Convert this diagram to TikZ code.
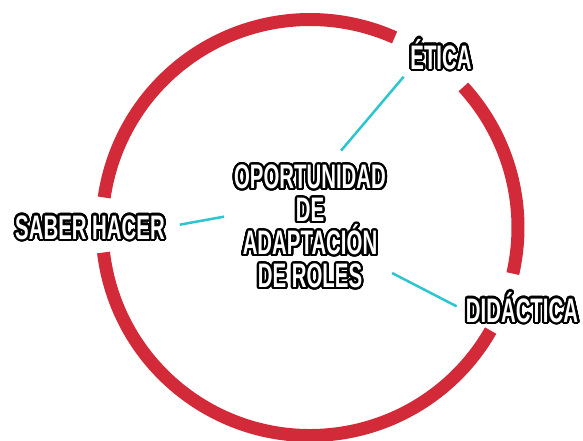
\documentclass[tikz,border=0pt]{standalone}
\usepackage{fontspec}
\usepackage{contour}
\usepackage{tikz}

\newfontfamily\rolefont{Liberation Sans}[FakeStretch = 0.6]
\contourlength{2.2pt}
\contournumber{32}
\definecolor{ringred}{RGB}{210,42,56}
\definecolor{linkcyan}{RGB}{44,197,208}

\begin{document}
\begin{tikzpicture}[x = 1pt, y = 1pt,
                      ring/.style = {draw = ringred, line width = 13pt},
                      link/.style = {draw = linkcyan, line width = 2.5pt},
                      role/.style = {text = white, inner sep = 2pt, text height = 24.3pt, text depth = 0pt,
                                     font = \rolefont\bfseries\fontsize{34}{33}\selectfont},
                      hubtext/.style = {text = white, align = center, inner xsep = 6pt, inner ysep = 14pt,
                                        font = \rolefont\bfseries\fontsize{34}{33}\selectfont}]
    \useasboundingbox (0, 0) rectangle (583, -440);

    \node [hubtext] (hub) at (310, -227.5){\contour{black}{OPORTUNIDAD}\\ \contour{black}{DE}\\
                                            \contour{black}{ADAPTACIÓN}\\ \contour{black}{DE ROLES}};
    \node [role] (etica) at (441, -57){\contour{black}{ÉTICA}};
    \node [role] (saber) at (90, -227){\contour{black}{SABER HACER}};
    \node [role] (didactica) at (522, -310){\contour{black}{DIDÁCTICA}};

    % ring broken at the three labels
    \draw [ring] (hub.center) ++(66:208) arc [start angle = 66, end angle = 171.7, radius = 208];
    \draw [ring] (hub.center) ++(186.9:208) arc [start angle = 186.9, end angle = 330.3, radius = 208];
    \draw [ring] (hub.center) ++(-12.8:208) arc [start angle = -12.8, end angle = 42.5, radius = 208];

    \draw [link, shorten > = 7pt] (hub.68.5) -- (etica.south west);
    \draw [link, shorten < = 13pt, shorten > = 4pt] (saber.east) -- (hub.172);
    \draw [link, shorten > = 8pt] (hub.331) -- (didactica.west);
\end{tikzpicture}
\end{document}
